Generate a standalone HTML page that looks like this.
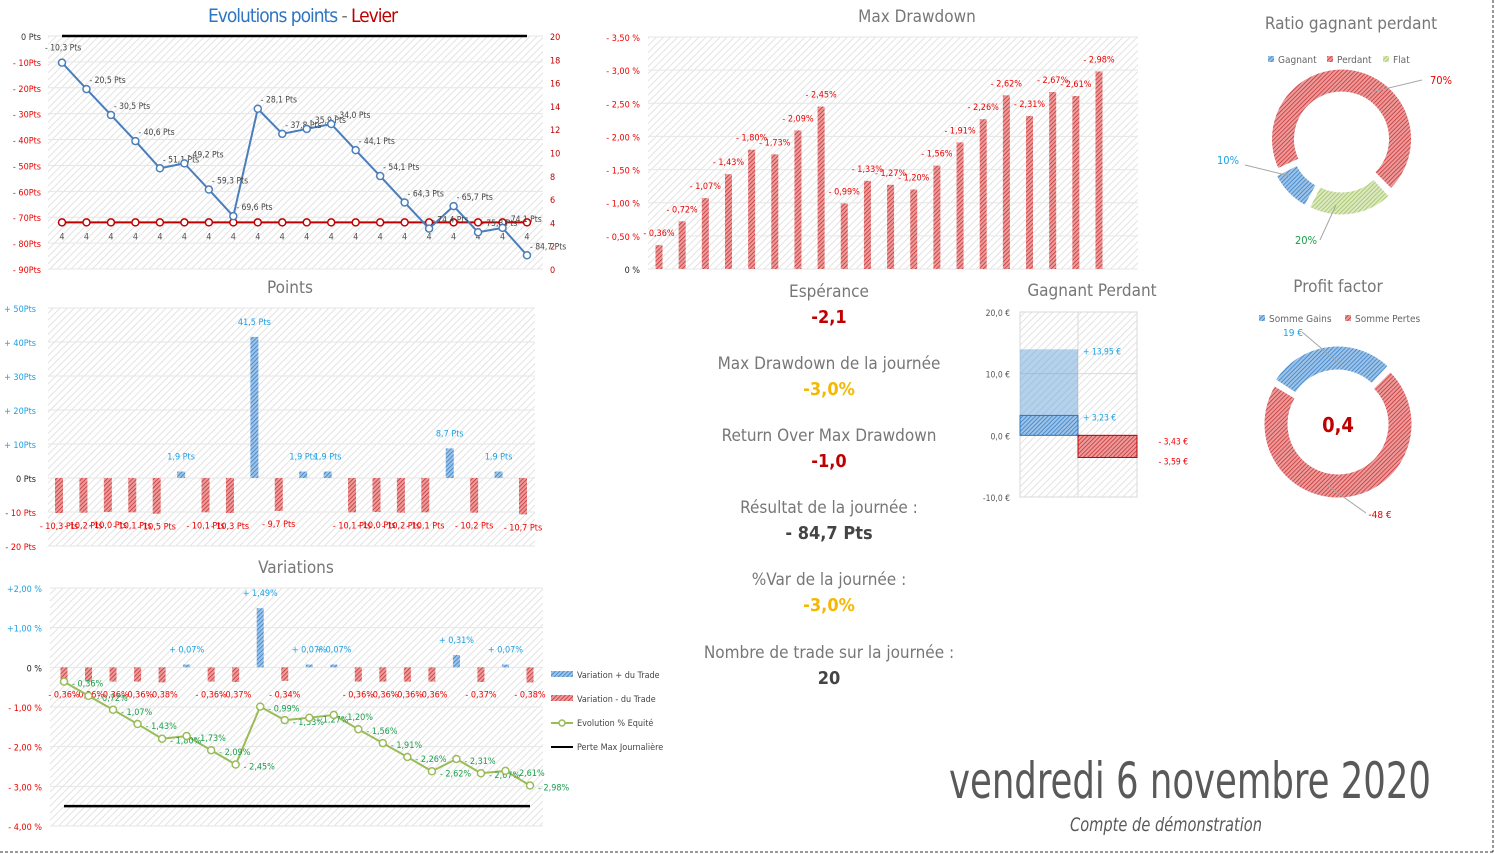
<!DOCTYPE html>
<html><head><meta charset="utf-8">
<style>
html,body{margin:0;padding:0;background:#fff;}
svg{display:block;font-family:"Liberation Sans Narrow","DejaVu Sans Condensed","Liberation Sans",sans-serif;}
</style></head>
<body>
<svg id="dash" width="1495" height="854" viewBox="0 0 1495 854" xmlns="http://www.w3.org/2000/svg">
<defs>
<pattern id="bg" width="5" height="5" patternUnits="userSpaceOnUse" patternTransform="rotate(45)"><rect width="5" height="5" fill="#fff"/><line x1="0" y1="0" x2="0" y2="5" stroke="#dcdcdc" stroke-width="1.6"/></pattern>
<pattern id="hr" width="3" height="3" patternUnits="userSpaceOnUse" patternTransform="rotate(45)"><rect width="3" height="3" fill="#ec9a9a"/><line x1="0" y1="0" x2="0" y2="3" stroke="#c0282a" stroke-width="1.4"/></pattern>
<pattern id="hb" width="3" height="3" patternUnits="userSpaceOnUse" patternTransform="rotate(45)"><rect width="3" height="3" fill="#9cc3e8"/><line x1="0" y1="0" x2="0" y2="3" stroke="#2e75c0" stroke-width="1.4"/></pattern>
<pattern id="hg" width="3" height="3" patternUnits="userSpaceOnUse" patternTransform="rotate(45)"><rect width="3" height="3" fill="#dbe9bf"/><line x1="0" y1="0" x2="0" y2="3" stroke="#9bbb59" stroke-width="1.4"/></pattern>
</defs>
<g id="root"></g>
<line x1="1493" y1="0" x2="1493" y2="852" stroke="#333" stroke-dasharray="3,2"/>
<line x1="0" y1="852" x2="1493" y2="852" stroke="#333" stroke-dasharray="3,2"/>
</svg>
<script>
// ---- data ----
const trades = [1,2,3,4,5,6,7,8,9,10,11,12,13,14,15,16,17,18,19,20];
const equityPts = [-10.3,-20.5,-30.5,-40.6,-51.1,-49.2,-59.3,-69.6,-28.1,-37.8,-35.9,-34.0,-44.1,-54.1,-64.3,-74.4,-65.7,-75.8,-74.1,-84.7];
const levier = [4,4,4,4,4,4,4,4,4,4,4,4,4,4,4,4,4,4,4,4];
const pointsVar = [-10.3,-10.2,-10.0,-10.1,-10.5,1.9,-10.1,-10.3,41.5,-9.7,1.9,1.9,-10.1,-10.0,-10.2,-10.1,8.7,-10.2,1.9,-10.7];
const pctVar = [-0.36,-0.36,-0.36,-0.36,-0.38,0.07,-0.36,-0.37,1.49,-0.34,0.07,0.07,-0.36,-0.36,-0.36,-0.36,0.31,-0.37,0.07,-0.38];
const pctEquity = [-0.36,-0.72,-1.07,-1.43,-1.80,-1.73,-2.09,-2.45,-0.99,-1.33,-1.27,-1.20,-1.56,-1.91,-2.26,-2.62,-2.31,-2.67,-2.61,-2.98];
const drawdown = [0.36,0.72,1.07,1.43,1.80,1.73,2.09,2.45,0.99,1.33,1.27,1.20,1.56,1.91,2.26,2.62,2.31,2.67,2.61,2.98];
const perteMax = -3.5;
const ptsTicks = [0,-10,-20,-30,-40,-50,-60,-70,-80,-90];
const levTicks = [0,2,4,6,8,10,12,14,16,18,20];
const pointsTicks = [50,40,30,20,10,0,-10,-20];
const varTicks = [2,1,0,-1,-2,-3,-4];
const ddTicks = [0,0.5,1,1.5,2,2.5,3,3.5];
const gpTicks = [20,10,0,-10];
const gainAvg = 13.95, gainMed = 3.23, lossAvg = -3.43, lossMed = -3.59;
const ratioLabels = ['Gagnant','Perdant','Flat'];
const ratioValues = [10,70,20];
const pfLabels = ['Somme Gains','Somme Pertes'];
const pfValues = [19,48];

const NS='http://www.w3.org/2000/svg';
const root=document.getElementById('root');
function mk(tag,a,p){const e=document.createElementNS(NS,tag);for(const k in a)e.setAttribute(k,a[k]);(p||root).appendChild(e);return e;}
function tx(x,y,s,size,fill,anchor,extra){const e=mk('text',Object.assign({x:x,y:y,'font-size':size,fill:fill,'text-anchor':anchor||'middle'},extra||{}));e.textContent=s;return e;}
function fr(v,d){return v.toFixed(d).replace('.',',');}

// ===== Chart 1: Evolutions points - Levier =====
{
 const x0=48,x1=543,yT=36,yB=269;
 const xs=i=>62+i*(527-62)/(trades.length-1);
 const yL=v=>yT+(0-v)/90*(yB-yT);
 const yR=v=>yB-v/20*(yB-yT);
 let e=mk('rect',{x:x0,y:yT,width:x1-x0,height:yB-yT,fill:'url(#bg)'});
 
 
 ptsTicks.forEach(v=>{const l=mk('line',{x1:x0,x2:x1,y1:yL(v),y2:yL(v),stroke:'#e6e6e6'});
  
  
  const t=tx(41,yL(v)+4,(v===0?'0 Pts':'- '+(-v)+'Pts'),9,v===0?'#333':'#e00','end');
  
  });
 levTicks.forEach(v=>{const t=tx(550,yR(v)+4,String(v),9,'#c00000','start');
  
  });
 e=mk('line',{x1:62,x2:527,y1:yL(0),y2:yL(0),stroke:'#000','stroke-width':2.5});
 
 
 e=tx(303,22,'',19,'#2e75c0');
 
 
 const s1=mk('tspan',{fill:'#2e75c0'},e);s1.textContent='Evolutions points ';
 const s2=mk('tspan',{fill:'#777'},e);s2.textContent='- ';
 const s3=mk('tspan',{fill:'#c00000'},e);s3.textContent='Levier';
 e.setAttribute('textLength','190');
 e=mk('polyline',{points:levier.map((v,i)=>xs(i)+','+yR(v)).join(' '),fill:'none',stroke:'#c00000','stroke-width':2});
 
 
 levier.forEach((v,i)=>{const c=mk('circle',{cx:xs(i),cy:yR(v),r:3.5,fill:'#fff',stroke:'#c00000','stroke-width':1.5});
  
  
  const t=tx(xs(i),yR(v)+17,String(v),9,'#555');
  
  });
 e=mk('polyline',{points:equityPts.map((v,i)=>xs(i)+','+yL(v)).join(' '),fill:'none',stroke:'#4a7ebb','stroke-width':2,'stroke-linejoin':'round'});
 
 
 equityPts.forEach((v,i)=>{const c=mk('circle',{cx:xs(i),cy:yL(v),r:3.5,fill:'#fff',stroke:'#4a7ebb','stroke-width':1.5});
  
  
  const first=i===0;
  const t=tx(first?xs(i)-17:xs(i)+3,first?yL(v)-12:yL(v)-6,'- '+fr(-v,1)+' Pts',8.5,'#444','start');
  
  });
}

// ===== Chart 2: Points =====
{
 const x0=48,x1=535,yT=308,yB=546;
 const xs=i=>59+i*(523-59)/(trades.length-1);
 const y=v=>yT+(50-v)/70*(yB-yT);
 let e=mk('rect',{x:x0,y:yT,width:x1-x0,height:yB-yT,fill:'url(#bg)'});
 
 
 e=tx(290,293,'Points',17,'#777');
 
 
 pointsTicks.forEach(v=>{const l=mk('line',{x1:x0,x2:x1,y1:y(v),y2:y(v),stroke:'#e6e6e6'});
  
  
  const lab=v>0?'+ '+v+'Pts':(v===0?'0 Pts':'- '+(-v)+' Pts');
  const t=tx(36,y(v)+4,lab,9,v>0?'#1ba1e2':(v===0?'#222':'#e00'),'end');
  
  });
 pointsVar.forEach((v,i)=>{const top=Math.min(y(v),y(0)),h=Math.abs(y(v)-y(0));
  const b=mk('rect',{x:xs(i)-4,y:top,width:8,height:h,fill:v>=0?'url(#hb)':'url(#hr)'});
  
  
  const t=v>=0?tx(xs(i),y(v)-12,fr(v,1)+' Pts',9,'#1ba1e2'):tx(xs(i),y(v)+16,'- '+fr(-v,1)+' Pts',9,'#e00');
  
  });
}

// ===== Chart 3: Variations =====
{
 const x0=50,x1=543,yT=588,yB=826;
 const xs=i=>64+i*(530-64)/(trades.length-1);
 const y=v=>yT+(2-v)/6*(yB-yT);
 let e=mk('rect',{x:x0,y:yT,width:x1-x0,height:yB-yT,fill:'url(#bg)'});
 
 
 e=tx(296,573,'Variations',17,'#777');
 
 
 varTicks.forEach(v=>{const l=mk('line',{x1:x0,x2:x1,y1:y(v),y2:y(v),stroke:'#e6e6e6'});
  
  
  const lab=v>0?'+'+fr(v,2)+' %':(v===0?'0 %':'- '+fr(-v,2)+' %');
  const t=tx(42,y(v)+4,lab,9,v>0?'#1ba1e2':(v===0?'#222':'#e00'),'end');
  
  });
 pctVar.forEach((v,i)=>{const top=Math.min(y(v),y(0)),h=Math.abs(y(v)-y(0));
  const b=mk('rect',{x:xs(i)-3.5,y:top,width:7,height:h,fill:v>=0?'url(#hb)':'url(#hr)'});
  
  
  const t=v>=0?tx(xs(i),y(v)-12,'+ '+fr(v,2)+'%',9,'#1ba1e2'):tx(xs(i),y(0)+30,'- '+fr(-v,2)+'%',9,'#e00');
  
  });
 e=mk('line',{x1:64,x2:530,y1:y(perteMax),y2:y(perteMax),stroke:'#000','stroke-width':2.5});
 
 
 e=mk('polyline',{points:pctEquity.map((v,i)=>xs(i)+','+y(v)).join(' '),fill:'none',stroke:'#9bbb59','stroke-width':2,'stroke-linejoin':'round'});
 
 
 pctEquity.forEach((v,i)=>{const c=mk('circle',{cx:xs(i),cy:y(v),r:3.5,fill:'#fff',stroke:'#9bbb59','stroke-width':1.5});
  
  
  const t=tx(xs(i)+8,y(v)+5,'- '+fr(-v,2)+'%',9,'#1a9e4a','start');
  
  });
 const leg=[['url(#hb)','Variation + du Trade','rect'],['url(#hr)','Variation - du Trade','rect'],['#9bbb59','Evolution % Equité','line'],['#000','Perte Max Journalière','black']];
 leg.forEach((L,k)=>{const yy=675+k*24;
  let m;
  if(L[2]==='rect'){m=mk('rect',{x:551,y:yy-4,width:22,height:6,fill:L[0]});}
  else if(L[2]==='line'){m=mk('line',{x1:551,x2:573,y1:yy,y2:yy,stroke:L[0],'stroke-width':2});const c=mk('circle',{cx:562,cy:yy,r:3,fill:'#fff',stroke:L[0],'stroke-width':1.5});}
  else {m=mk('line',{x1:551,x2:573,y1:yy,y2:yy,stroke:'#000','stroke-width':2});}
  
  
  const t=tx(577,yy+3,L[1],9,'#444','start');
  
  });
}

// ===== Chart 4: Max Drawdown =====
{
 const x0=648,x1=1138,yT=37,yB=269;
 const xs=i=>659+i*(1099-659)/(drawdown.length-1);
 const y=v=>yB-v/3.5*(yB-yT);
 let e=mk('rect',{x:x0,y:yT,width:x1-x0,height:yB-yT,fill:'url(#bg)'});
 
 
 e=tx(917,22,'Max Drawdown',17,'#777');
 
 
 ddTicks.forEach(v=>{const l=mk('line',{x1:x0,x2:x1,y1:y(v),y2:y(v),stroke:'#e6e6e6'});
  
  
  const t=tx(640,y(v)+4,v===0?'0 %':'- '+fr(v,2)+' %',9,v===0?'#222':'#e00','end');
  
  });
 drawdown.forEach((v,i)=>{const b=mk('rect',{x:xs(i)-3.5,y:y(v),width:7,height:yB-y(v),fill:'url(#hr)'});
  
  
  const t=tx(xs(i),y(v)-9,'- '+fr(v,2)+'%',9,'#e00');
  
  });
}

// ===== KPI text block =====
{
 const items=[['Espérance','-2,1','#c00000',290,'kpi-esperance'],['Max Drawdown de la journée','-3,0%','#f5b800',362,'kpi-max-drawdown'],['Return Over Max Drawdown','-1,0','#c00000',434,'kpi-return-over-drawdown'],['Résultat de la journée :','- 84,7 Pts','#444',506,'kpi-resultat'],['%Var de la journée :','-3,0%','#f5b800',578,'kpi-var'],['Nombre de trade sur la journée :','20','#444',651,'kpi-nombre-trades']];
 items.forEach(it=>{const a=tx(829,it[3]+7,it[0],17,'#777');
  
  
  const b=tx(829,it[3]+33,it[1],18,it[2],'middle',{'font-weight':'bold'});
  
  });
}

// ===== Chart 5: Gagnant Perdant =====
{
 const x0=1020,xm=1078,x1=1137,yT=312,yB=497;
 const y=v=>yT+(20-v)/30*(yB-yT);
 let e=mk('rect',{x:x0,y:yT,width:x1-x0,height:yB-yT,fill:'url(#bg)',stroke:'#d9d9d9'});
 
 
 e=tx(1092,296,'Gagnant Perdant',17,'#777');
 
 
 gpTicks.forEach(v=>{const l=mk('line',{x1:x0,x2:x1,y1:y(v),y2:y(v),stroke:'#d9d9d9'});
  
  
  const t=tx(1010,y(v)+4,fr(v,1)+' €',8.5,'#555','end');
  
  });
 e=mk('line',{x1:xm,x2:xm,y1:yT,y2:yB,stroke:'#d9d9d9'});
 
 
 e=mk('rect',{x:x0,y:y(gainAvg),width:xm-x0,height:y(0)-y(gainAvg),fill:'#5b9bd5','fill-opacity':0.45});
 
 
 e=mk('rect',{x:x0,y:y(gainMed),width:xm-x0,height:y(0)-y(gainMed),fill:'url(#hb)',stroke:'#2e75c0'});
 
 
 e=mk('rect',{x:xm,y:y(0),width:x1-xm,height:y(lossMed)-y(0),fill:'url(#hr)',stroke:'#c00000'});
 
 
 [[1083,y(gainAvg)+5,'+ '+fr(gainAvg,2)+' €','#1ba1e2','start'],[1083,y(gainMed)+5,'+ '+fr(gainMed,2)+' €','#1ba1e2','start'],[1188,y(0)+9,'- '+fr(-lossAvg,2)+' €','#e00','end'],[1188,y(lossMed)+7,'- '+fr(-lossMed,2)+' €','#e00','end']].forEach(L=>{
  const t=tx(L[0],L[1],L[2],8.5,L[3],L[4]);
  
  });
}

// ===== Donuts =====
function arc(cx,cy,R,r,a0,a1,off){const am=(a0+a1)/2*Math.PI/180;cx+=off*Math.sin(am);cy-=off*Math.cos(am);
 const p=(rad,a)=>[cx+rad*Math.sin(a*Math.PI/180),cy-rad*Math.cos(a*Math.PI/180)];
 const lg=(a1-a0)>180?1:0;const A=p(R,a0),B=p(R,a1),C=p(r,a1),D=p(r,a0);
 return `M${A[0]},${A[1]} A${R},${R} 0 ${lg} 1 ${B[0]},${B[1]} L${C[0]},${C[1]} A${r},${r} 0 ${lg} 0 ${D[0]},${D[1]} Z`;}
{
 const cx=1341,cy=142,R=70,r=47;
 let e=tx(1351,29,'Ratio gagnant perdant',17,'#777');
 
 
 const fills=['url(#hb)','url(#hr)','url(#hg)'];
 const tot=ratioValues.reduce((a,b)=>a+b,0);let a=208;
 ratioValues.forEach((v,i)=>{const a1=a+v/tot*360;
  const p=mk('path',{d:arc(cx,cy,R,r,a+1,a1-1,3),fill:fills[i],stroke:'#fff','stroke-width':1});
  
  
  a=a1;});
 [[1228,164,'10%','#1ba1e2'],[1441,84,'70%','#e00'],[1306,244,'20%','#1a9e4a']].forEach(L=>{const t=tx(L[0],L[1],L[2],11,L[3]);
  
  });
 [[1245,165,1290,176],[1422,80,1372,92],[1320,240,1336,205]].forEach(L=>{const l=mk('polyline',{points:L[0]+','+L[1]+' '+L[2]+','+L[3],fill:'none',stroke:'#a6a6a6'});
  
  });
 ratioLabels.forEach((L,i)=>{const lx=[1268,1327,1383][i];
  const s=mk('rect',{x:lx,y:56,width:6,height:6,fill:fills[i]});
  
  
  const t=tx(lx+10,63,L,10,'#666','start');
  
  });
}
{
 const cx=1338,cy=424,R=74,r=50;
 let e=tx(1338,292,'Profit factor',17,'#777');
 
 
 const fills=['url(#hb)','url(#hr)'];
 const tot=pfValues[0]+pfValues[1];let a=-58;
 pfValues.forEach((v,i)=>{const a1=a+v/tot*360;
  const p=mk('path',{d:arc(cx,cy,R,r,a+1,a1-1,i===0?4:0),fill:fills[i],stroke:'#fff','stroke-width':1});
  
  
  a=a1;});
 e=tx(1338,432,fr(pfValues[0]/pfValues[1],1),20,'#c00000','middle',{'font-weight':'bold'});
 
 
 e=tx(1293,336,pfValues[0]+' €',10,'#1ba1e2');
 
 
 e=tx(1380,518,'-'+pfValues[1]+' €',10,'#e00');
 
 
 [[1302,332,1340,364],[1366,513,1328,486]].forEach(L=>{const l=mk('polyline',{points:L[0]+','+L[1]+' '+L[2]+','+L[3],fill:'none',stroke:'#a6a6a6'});
  
  });
 pfLabels.forEach((L,i)=>{const lx=[1259,1345][i];
  const s=mk('rect',{x:lx,y:315,width:6,height:6,fill:fills[i]});
  
  
  const t=tx(lx+10,322,L,10,'#666','start');
  
  });
}

// ===== Date footer =====
{
 let e=tx(1190,798,'vendredi 6 novembre 2020',50,'#595959','middle',{textLength:482,lengthAdjust:'spacingAndGlyphs'});
 
 
 e=tx(1166,831,'Compte de démonstration',19,'#595959','middle',{'font-style':'italic',textLength:192,lengthAdjust:'spacingAndGlyphs'});
 
 
}
</script>
</body></html>
